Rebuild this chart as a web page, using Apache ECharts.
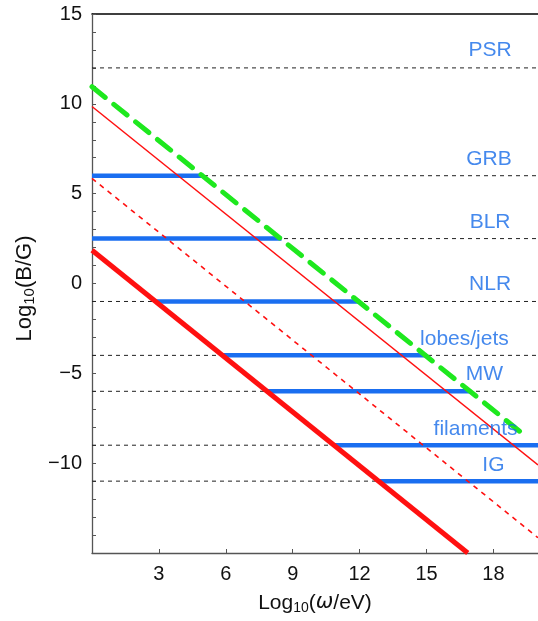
<!DOCTYPE html>
<html>
<head>
<meta charset="utf-8">
<script src="https://cdn.jsdelivr.net/npm/echarts@6/dist/echarts.min.js"></script>
<style>html,body{margin:0;padding:0;background:#fff}#c{width:538px;height:621px}</style>
</head>
<body>
<div id="c"></div>
<script>
// Source levels (log10 B/G)
var sourceNames = ['PSR', 'GRB', 'BLR', 'NLR', 'lobes/jets', 'MW', 'filaments', 'IG'];
var sourceLevels = [12, 6, 2.5, -1, -4, -6, -9, -11];
// Blue segments: x range [start, end] in log10(ω/eV) (null = none)
var segStart = [null, 0, 0, 2.85, 5.85, 7.85, 10.85, 12.85];
var segEnd = [null, 5, 8.5, 12, 15, 17, 20, 20];
// label anchors (x in data units, y offset above line)
var labelX = [17.85, 17.8, 17.85, 17.85, 16.7, 17.6, 17.2, 18.0];
var labelDy = [1.0, 0.9, 0.9, 0.95, 0.9, 0.95, 0.9, 0.9];
// Diagonal lines: y = intercept - x
var thickRedLine = [[0, 1.85], [16.85, -15]];
var thinRedLine = [[0, 9.85], [20, -10.1]];
var dottedRedLine = [[0, 5.85], [20, -14.15]];
var greenLine = [[0, 10.95], [19.4, -8.45]];
var xRange = [0, 20];
var yRange = [-15, 15];

var FONT = 'Liberation Sans, Arial, Helvetica, sans-serif';
var series = [];
sourceLevels.forEach(function (lv) {
  series.push({
    type: 'line', data: [[xRange[0], lv], [xRange[1], lv]], showSymbol: false, silent: true,
    lineStyle: { color: '#222', width: 1, type: [4, 4] }, z: 1
  });
});
sourceLevels.forEach(function (lv, i) {
  if (segStart[i] === null) return;
  series.push({
    type: 'line', data: [[segStart[i], lv], [segEnd[i], lv]], showSymbol: false, silent: true,
    lineStyle: { color: '#1a6ef0', width: 4.5, cap: 'butt' }, z: 2
  });
});
series.push({ type: 'line', data: dottedRedLine, showSymbol: false, silent: true,
  lineStyle: { color: '#ff1010', width: 1.6, type: [5, 5] }, z: 3 });
series.push({ type: 'line', data: thinRedLine, showSymbol: false, silent: true,
  lineStyle: { color: '#ff1010', width: 1.5 }, z: 3 });
series.push({ type: 'line', data: thickRedLine, showSymbol: false, silent: true,
  lineStyle: { color: '#ff1010', width: 5, cap: 'butt' }, z: 3 });
series.push({ type: 'line', data: greenLine, showSymbol: false, silent: true,
  lineStyle: { color: '#1ee81e', width: 5, type: [17, 11], cap: 'round' }, z: 3 });
series.push({
  type: 'scatter', symbolSize: 0, silent: true, z: 5,
  data: sourceNames.map(function (n, i) { return { value: [labelX[i], sourceLevels[i] + labelDy[i]], name: n }; }),
  label: { show: true, position: 'inside', formatter: '{b}', color: '#166be8', fontSize: 21, fontFamily: FONT }
});

var chart = echarts.init(document.getElementById('c'), null, { renderer: 'canvas' });
chart.setOption({
  animation: false,
  backgroundColor: '#fff',
  grid: { left: 92, right: 0, top: 14, bottom: 68, containLabel: false },
  xAxis: [{
    type: 'value', min: xRange[0], max: xRange[1], interval: 3,
    axisLine: { show: true, onZero: false, lineStyle: { color: '#555', width: 1.3 } },
    axisTick: { show: true, inside: true, length: 4, lineStyle: { color: '#555' } },
    axisLabel: { showMinLabel: false, showMaxLabel: false, fontSize: 20, color: '#111', margin: 11,
      fontFamily: FONT,
      formatter: function (v) { return v === 0 ? '' : String(v); } },
    splitLine: { show: false },
    name: '{a|Log}{s|10}{a|(}{i|ω}{a|/eV)}', nameLocation: 'middle', nameGap: 38,
    nameTextStyle: { rich: {
      a: { fontSize: 21, color: '#111', fontFamily: FONT },
      s: { fontSize: 14, color: '#111', verticalAlign: 'bottom', padding: [10, 0, 0, 0], fontFamily: FONT },
      i: { fontSize: 21, color: '#111', fontStyle: 'italic', fontFamily: 'DejaVu Sans, sans-serif' }
    } }
  }, {
    type: 'value', position: 'top', min: xRange[0], max: xRange[1],
    axisLine: { show: true, onZero: false, lineStyle: { color: '#000', width: 1.5 } },
    axisTick: { show: false }, axisLabel: { show: false }, splitLine: { show: false }
  }],
  yAxis: {
    type: 'value', min: yRange[0], max: yRange[1], interval: 5,
    axisLine: { show: true, onZero: false, lineStyle: { color: '#555', width: 1.3 } },
    axisTick: { show: true, inside: true, length: 4, lineStyle: { color: '#555' } },
    minorTick: { show: true, splitNumber: 5, length: 4, lineStyle: { color: '#555' } },
    axisLabel: { showMinLabel: false, fontSize: 20, color: '#111', margin: 10,
      fontFamily: FONT,
      formatter: function (v) { return String(v).replace('-', '\u2212'); } },
    splitLine: { show: false },
    name: '{a|Log}{s|10}{a|(B/G)}', nameLocation: 'middle', nameGap: 55, nameRotate: 90,
    nameTextStyle: { padding: [0, 10, 0, 0], rich: {
      a: { fontSize: 22, color: '#111', fontFamily: FONT },
      s: { fontSize: 15, color: '#111', verticalAlign: 'bottom', padding: [10, 0, 0, 0], fontFamily: FONT }
    } }
  },
  series: series
});
</script>
</body>
</html>
